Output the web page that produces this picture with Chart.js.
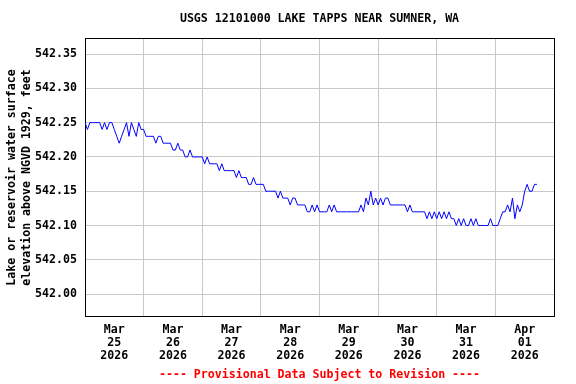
<!DOCTYPE html>
<html>
<head>
<meta charset="utf-8">
<script src="https://cdn.jsdelivr.net/npm/chart.js@4/dist/chart.umd.min.js"></script>
<style>
  html, body { margin: 0; padding: 0; background: #ffffff; }
  canvas { display: block; }
</style>
</head>
<body>
<canvas id="c" width="576" height="384"></canvas>
<script>
// ---- Data (hourly readings from Mar 25 2026 00:00) ----
const titleText = "USGS 12101000 LAKE TAPPS NEAR SUMNER, WA";
const footerText = "---- Provisional Data Subject to Revision ----";
const yTitleLines = ["Lake or reservoir water surface", "elevation above NGVD 1929, feet"];

const dayMonths = ["Mar", "Mar", "Mar", "Mar", "Mar", "Mar", "Mar", "Apr"];
const dayNums   = ["25", "26", "27", "28", "29", "30", "31", "01"];
const dayYears  = ["2026", "2026", "2026", "2026", "2026", "2026", "2026", "2026"];

const yTickValues = [542.00, 542.05, 542.10, 542.15, 542.20, 542.25, 542.30, 542.35];
const yTickLabels = ["542.00", "542.05", "542.10", "542.15", "542.20", "542.25", "542.30", "542.35"];

const mar25 = [542.25, 542.24, 542.25, 542.25, 542.25, 542.25, 542.25, 542.24, 542.25, 542.24, 542.25, 542.25,
               542.24, 542.23, 542.22, 542.23, 542.24, 542.25, 542.23, 542.25, 542.24, 542.23, 542.25, 542.24];
const mar26 = [542.24, 542.23, 542.23, 542.23, 542.23, 542.22, 542.23, 542.23, 542.22, 542.22, 542.22, 542.22,
               542.21, 542.21, 542.22, 542.21, 542.21, 542.20, 542.20, 542.21, 542.20, 542.20, 542.20, 542.20];
const mar27 = [542.20, 542.19, 542.20, 542.19, 542.19, 542.19, 542.19, 542.18, 542.19, 542.18, 542.18, 542.18,
               542.18, 542.18, 542.17, 542.18, 542.17, 542.17, 542.17, 542.16, 542.16, 542.17, 542.16, 542.16];
const mar28 = [542.16, 542.16, 542.15, 542.15, 542.15, 542.15, 542.15, 542.14, 542.15, 542.14, 542.14, 542.14,
               542.13, 542.14, 542.14, 542.13, 542.13, 542.13, 542.13, 542.12, 542.12, 542.13, 542.12, 542.13];
const mar29 = [542.12, 542.12, 542.12, 542.12, 542.13, 542.12, 542.13, 542.12, 542.12, 542.12, 542.12, 542.12,
               542.12, 542.12, 542.12, 542.12, 542.12, 542.13, 542.12, 542.14, 542.13, 542.15, 542.13, 542.14];
const mar30 = [542.13, 542.14, 542.13, 542.14, 542.14, 542.13, 542.13, 542.13, 542.13, 542.13, 542.13, 542.13,
               542.12, 542.13, 542.12, 542.12, 542.12, 542.12, 542.12, 542.12, 542.11, 542.12, 542.11, 542.12];
const mar31 = [542.11, 542.12, 542.11, 542.12, 542.11, 542.12, 542.11, 542.11, 542.10, 542.11, 542.10, 542.11,
               542.10, 542.10, 542.11, 542.10, 542.11, 542.10, 542.10, 542.10, 542.10, 542.10, 542.11, 542.10];
const apr01 = [542.10, 542.10, 542.11, 542.12, 542.12, 542.13, 542.12, 542.14, 542.11, 542.13, 542.12, 542.13,
               542.15, 542.16, 542.15, 542.15, 542.16, 542.16];

// ---- Build chart structures ----
const series = [].concat(mar25, mar26, mar27, mar28, mar29, mar30, mar31, apr01);
const points = series.map((v, i) => ({ x: i, y: v }));
const hoursPerDay = 24;
const totalHours = dayNums.length * hoursPerDay;
const gridHours = [];
for (let d = 1; d < dayNums.length; d++) gridHours.push(d * hoursPerDay);
const labelHours = dayNums.map((_, d) => d * hoursPerDay + hoursPerDay / 2);

const FAMILY = "'DejaVu Sans Mono', 'Liberation Mono', monospace";
const baseFont = { family: FAMILY, size: 11.6, weight: 'bold' };

new Chart(document.getElementById('c'), {
  type: 'line',
  data: {
    datasets: [{
      data: points,
      xAxisID: 'x',
      yAxisID: 'y',
      borderColor: '#0000ff',
      borderWidth: 1,
      pointRadius: 0,
      tension: 0,
      fill: false
    }]
  },
  options: {
    responsive: false,
    animation: false,
    events: [],
    layout: { padding: { left: 0, right: 22, top: 0, bottom: 0 } },
    plugins: {
      legend: { display: false },
      tooltip: { enabled: false },
      title: {
        display: true, fullSize: false, text: titleText, color: '#000000',
        font: Object.assign({}, baseFont, { lineHeight: 1.2 }),
        padding: { top: 12, bottom: 13 }
      },
      subtitle: {
        display: true, fullSize: false, position: 'bottom', text: footerText, color: '#ff0000',
        font: Object.assign({}, baseFont, { lineHeight: 1.2 }),
        padding: { top: 0, bottom: 2 }
      }
    },
    scales: {
      x: {
        type: 'linear', position: 'bottom', weight: 0,
        min: 0, max: totalHours,
        afterBuildTicks: s => { s.ticks = gridHours.map(v => ({ value: v })); },
        ticks: { display: false },
        grid: { color: '#c8c8c8', lineWidth: 1, drawTicks: false },
        border: { display: true, color: '#000000', width: 1 },
        afterFit: s => { s.height = 0; }
      },
      xl: {
        type: 'linear', position: 'bottom', weight: 1,
        min: 0, max: totalHours,
        afterBuildTicks: s => { s.ticks = labelHours.map(v => ({ value: v })); },
        ticks: {
          autoSkip: false, maxRotation: 0, minRotation: 0, padding: 7,
          color: '#000000',
          font: Object.assign({}, baseFont, { lineHeight: 1.12 }),
          callback: (v, i) => [dayMonths[i], dayNums[i], dayYears[i]]
        },
        grid: { display: false, drawTicks: false },
        border: { display: false },
        afterFit: s => { s.height = 52; }
      },
      xt: {
        type: 'linear', position: 'top', min: 0, max: 1,
        ticks: { display: false },
        grid: { display: false, drawTicks: false },
        border: { display: true, color: '#000000', width: 1 },
        afterFit: s => { s.height = 0; }
      },
      y: {
        type: 'linear', position: 'left',
        min: 541.968, max: 542.372,
        afterBuildTicks: s => { s.ticks = yTickValues.map(v => ({ value: v })); },
        ticks: {
          autoSkip: false, padding: 8, color: '#000000',
          font: baseFont,
          callback: (v, i) => yTickLabels[i]
        },
        grid: { color: '#c8c8c8', lineWidth: 1, drawTicks: false },
        border: { display: true, color: '#000000', width: 1 },
        title: {
          display: true, text: yTitleLines, color: '#000000',
          font: Object.assign({}, baseFont, { lineHeight: 1.25 }),
          padding: { top: 5, bottom: 0 }
        },
        afterFit: s => { s.width = 85; }
      },
      yr: {
        type: 'linear', position: 'right', min: 0, max: 1,
        ticks: { display: false },
        grid: { display: false, drawTicks: false },
        border: { display: true, color: '#000000', width: 1 },
        afterFit: s => { s.width = 0; }
      }
    }
  }
});
</script>
</body>
</html>
